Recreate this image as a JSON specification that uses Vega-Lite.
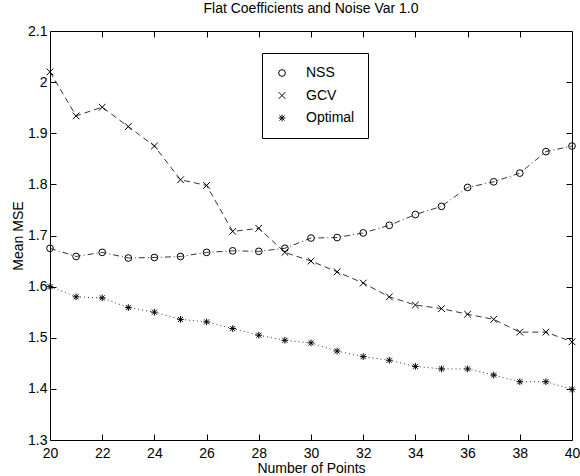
{
  "$schema": "https://vega.github.io/schema/vega-lite/v6.json",
  "width": 522,
  "height": 409,
  "autosize": "none",
  "padding": {"left": 50, "top": 31, "right": 8, "bottom": 36},
  "background": "white",
  "title": {"text": "Flat Coefficients and Noise Var 1.0", "font": "Liberation Sans", "fontSize": 14, "fontWeight": "normal", "color": "black", "offset": 8, "anchor": "middle"},
  "config": {
    "view": {"stroke": "black", "strokeWidth": 1},
    "axis": {"grid": false, "domainColor": "black", "domainWidth": 1, "tickColor": "black", "tickWidth": 1, "tickSize": 6, "labelColor": "black", "labelFont": "Liberation Sans", "labelFontSize": 14, "titleFont": "Liberation Sans", "titleFontSize": 14, "titleFontWeight": "normal", "titleColor": "black", "labelOverlap": false, "labelFlush": false},
    "legend": {"labelFont": "Liberation Sans", "labelFontSize": 14, "labelColor": "black"}
  },
  "data": {"values": [
    {"n": 20, "series": "NSS", "mse": 1.675}, {"n": 21, "series": "NSS", "mse": 1.659}, {"n": 22, "series": "NSS", "mse": 1.667}, {"n": 23, "series": "NSS", "mse": 1.656}, {"n": 24, "series": "NSS", "mse": 1.657}, {"n": 25, "series": "NSS", "mse": 1.659}, {"n": 26, "series": "NSS", "mse": 1.667}, {"n": 27, "series": "NSS", "mse": 1.670}, {"n": 28, "series": "NSS", "mse": 1.669}, {"n": 29, "series": "NSS", "mse": 1.675}, {"n": 30, "series": "NSS", "mse": 1.695}, {"n": 31, "series": "NSS", "mse": 1.696}, {"n": 32, "series": "NSS", "mse": 1.705}, {"n": 33, "series": "NSS", "mse": 1.720}, {"n": 34, "series": "NSS", "mse": 1.741}, {"n": 35, "series": "NSS", "mse": 1.757}, {"n": 36, "series": "NSS", "mse": 1.794}, {"n": 37, "series": "NSS", "mse": 1.805}, {"n": 38, "series": "NSS", "mse": 1.822}, {"n": 39, "series": "NSS", "mse": 1.864}, {"n": 40, "series": "NSS", "mse": 1.875},
    {"n": 20, "series": "GCV", "mse": 2.020}, {"n": 21, "series": "GCV", "mse": 1.934}, {"n": 22, "series": "GCV", "mse": 1.951}, {"n": 23, "series": "GCV", "mse": 1.913}, {"n": 24, "series": "GCV", "mse": 1.875}, {"n": 25, "series": "GCV", "mse": 1.809}, {"n": 26, "series": "GCV", "mse": 1.798}, {"n": 27, "series": "GCV", "mse": 1.708}, {"n": 28, "series": "GCV", "mse": 1.714}, {"n": 29, "series": "GCV", "mse": 1.667}, {"n": 30, "series": "GCV", "mse": 1.650}, {"n": 31, "series": "GCV", "mse": 1.629}, {"n": 32, "series": "GCV", "mse": 1.607}, {"n": 33, "series": "GCV", "mse": 1.580}, {"n": 34, "series": "GCV", "mse": 1.564}, {"n": 35, "series": "GCV", "mse": 1.557}, {"n": 36, "series": "GCV", "mse": 1.546}, {"n": 37, "series": "GCV", "mse": 1.536}, {"n": 38, "series": "GCV", "mse": 1.511}, {"n": 39, "series": "GCV", "mse": 1.511}, {"n": 40, "series": "GCV", "mse": 1.492},
    {"n": 20, "series": "Optimal", "mse": 1.600}, {"n": 21, "series": "Optimal", "mse": 1.580}, {"n": 22, "series": "Optimal", "mse": 1.578}, {"n": 23, "series": "Optimal", "mse": 1.559}, {"n": 24, "series": "Optimal", "mse": 1.550}, {"n": 25, "series": "Optimal", "mse": 1.536}, {"n": 26, "series": "Optimal", "mse": 1.531}, {"n": 27, "series": "Optimal", "mse": 1.518}, {"n": 28, "series": "Optimal", "mse": 1.505}, {"n": 29, "series": "Optimal", "mse": 1.495}, {"n": 30, "series": "Optimal", "mse": 1.490}, {"n": 31, "series": "Optimal", "mse": 1.474}, {"n": 32, "series": "Optimal", "mse": 1.463}, {"n": 33, "series": "Optimal", "mse": 1.456}, {"n": 34, "series": "Optimal", "mse": 1.444}, {"n": 35, "series": "Optimal", "mse": 1.439}, {"n": 36, "series": "Optimal", "mse": 1.439}, {"n": 37, "series": "Optimal", "mse": 1.427}, {"n": 38, "series": "Optimal", "mse": 1.414}, {"n": 39, "series": "Optimal", "mse": 1.414}, {"n": 40, "series": "Optimal", "mse": 1.399}
  ]},
  "layer": [
    {
      "transform": [{"filter": "datum.series === 'NSS'"}],
      "mark": {"type": "line", "color": "black", "strokeWidth": 0.8, "strokeDash": [6, 3, 1, 3]},
      "encoding": {
        "x": {"field": "n", "type": "quantitative", "scale": {"domain": [20, 40], "nice": false, "zero": false}, "axis": {"orient": "bottom", "values": [20, 22, 24, 26, 28, 30, 32, 34, 36, 38, 40], "title": "Number of Points", "ticks": false, "tickSize": 0, "labelPadding": 6, "titlePadding": 1}},
        "y": {"field": "mse", "type": "quantitative", "scale": {"domain": [1.3, 2.1], "nice": false, "zero": false}, "axis": {"orient": "left", "values": [1.3, 1.4, 1.5, 1.6, 1.7, 1.8, 1.9, 2.0, 2.1], "format": "~g", "title": "Mean MSE", "ticks": false, "tickSize": 0, "labelPadding": 3, "titlePadding": 2}}
      }
    },
    {
      "transform": [{"filter": "datum.series === 'GCV'"}],
      "mark": {"type": "line", "color": "black", "strokeWidth": 0.8, "strokeDash": [6, 4]},
      "encoding": {
        "x": {"field": "n", "type": "quantitative", "axis": {"orient": "top", "offset": -409, "domain": false, "ticks": true, "values": [22, 24, 26, 28, 30, 32, 34, 36, 38], "labels": false, "title": null}},
        "y": {"field": "mse", "type": "quantitative", "axis": {"orient": "right", "offset": -522, "domain": false, "ticks": true, "values": [1.4, 1.5, 1.6, 1.7, 1.8, 1.9, 2.0], "labels": false, "title": null}}
      }
    },
    {
      "transform": [{"filter": "datum.series === 'Optimal'"}],
      "mark": {"type": "line", "color": "black", "strokeWidth": 0.8, "strokeDash": [1, 3]},
      "encoding": {
        "x": {"field": "n", "type": "quantitative", "axis": {"orient": "bottom", "offset": -409, "domain": false, "ticks": true, "values": [22, 24, 26, 28, 30, 32, 34, 36, 38], "labels": false, "title": null}},
        "y": {"field": "mse", "type": "quantitative", "axis": {"orient": "left", "offset": -522, "domain": false, "ticks": true, "values": [1.4, 1.5, 1.6, 1.7, 1.8, 1.9, 2.0], "labels": false, "title": null}}
      }
    },
    {
      "mark": {"type": "point", "filled": false, "color": "black", "strokeWidth": 1, "size": 45, "opacity": 1},
      "encoding": {
        "x": {"field": "n", "type": "quantitative", "axis": null},
        "y": {"field": "mse", "type": "quantitative", "axis": null},
        "shape": {"field": "series", "type": "nominal", "scale": {"domain": ["NSS", "GCV", "Optimal"], "range": ["circle", "M-1,-1L1,1M-1,1L1,-1", "M-0.75,-0.75L0.75,0.75M-0.75,0.75L0.75,-0.75M0,-1L0,1M-1,0L1,0"]},
          "legend": {"title": null, "orient": "none", "legendX": 212, "legendY": 22, "strokeColor": "black", "padding": 13, "symbolSize": 45, "symbolStrokeWidth": 1, "symbolStrokeColor": "black", "symbolFillColor": "transparent", "labelOffset": 17, "rowPadding": 8.5, "fillColor": "white"}}
      }
    }
  ],
  "resolve": {"axis": {"x": "independent", "y": "independent"}}
}
